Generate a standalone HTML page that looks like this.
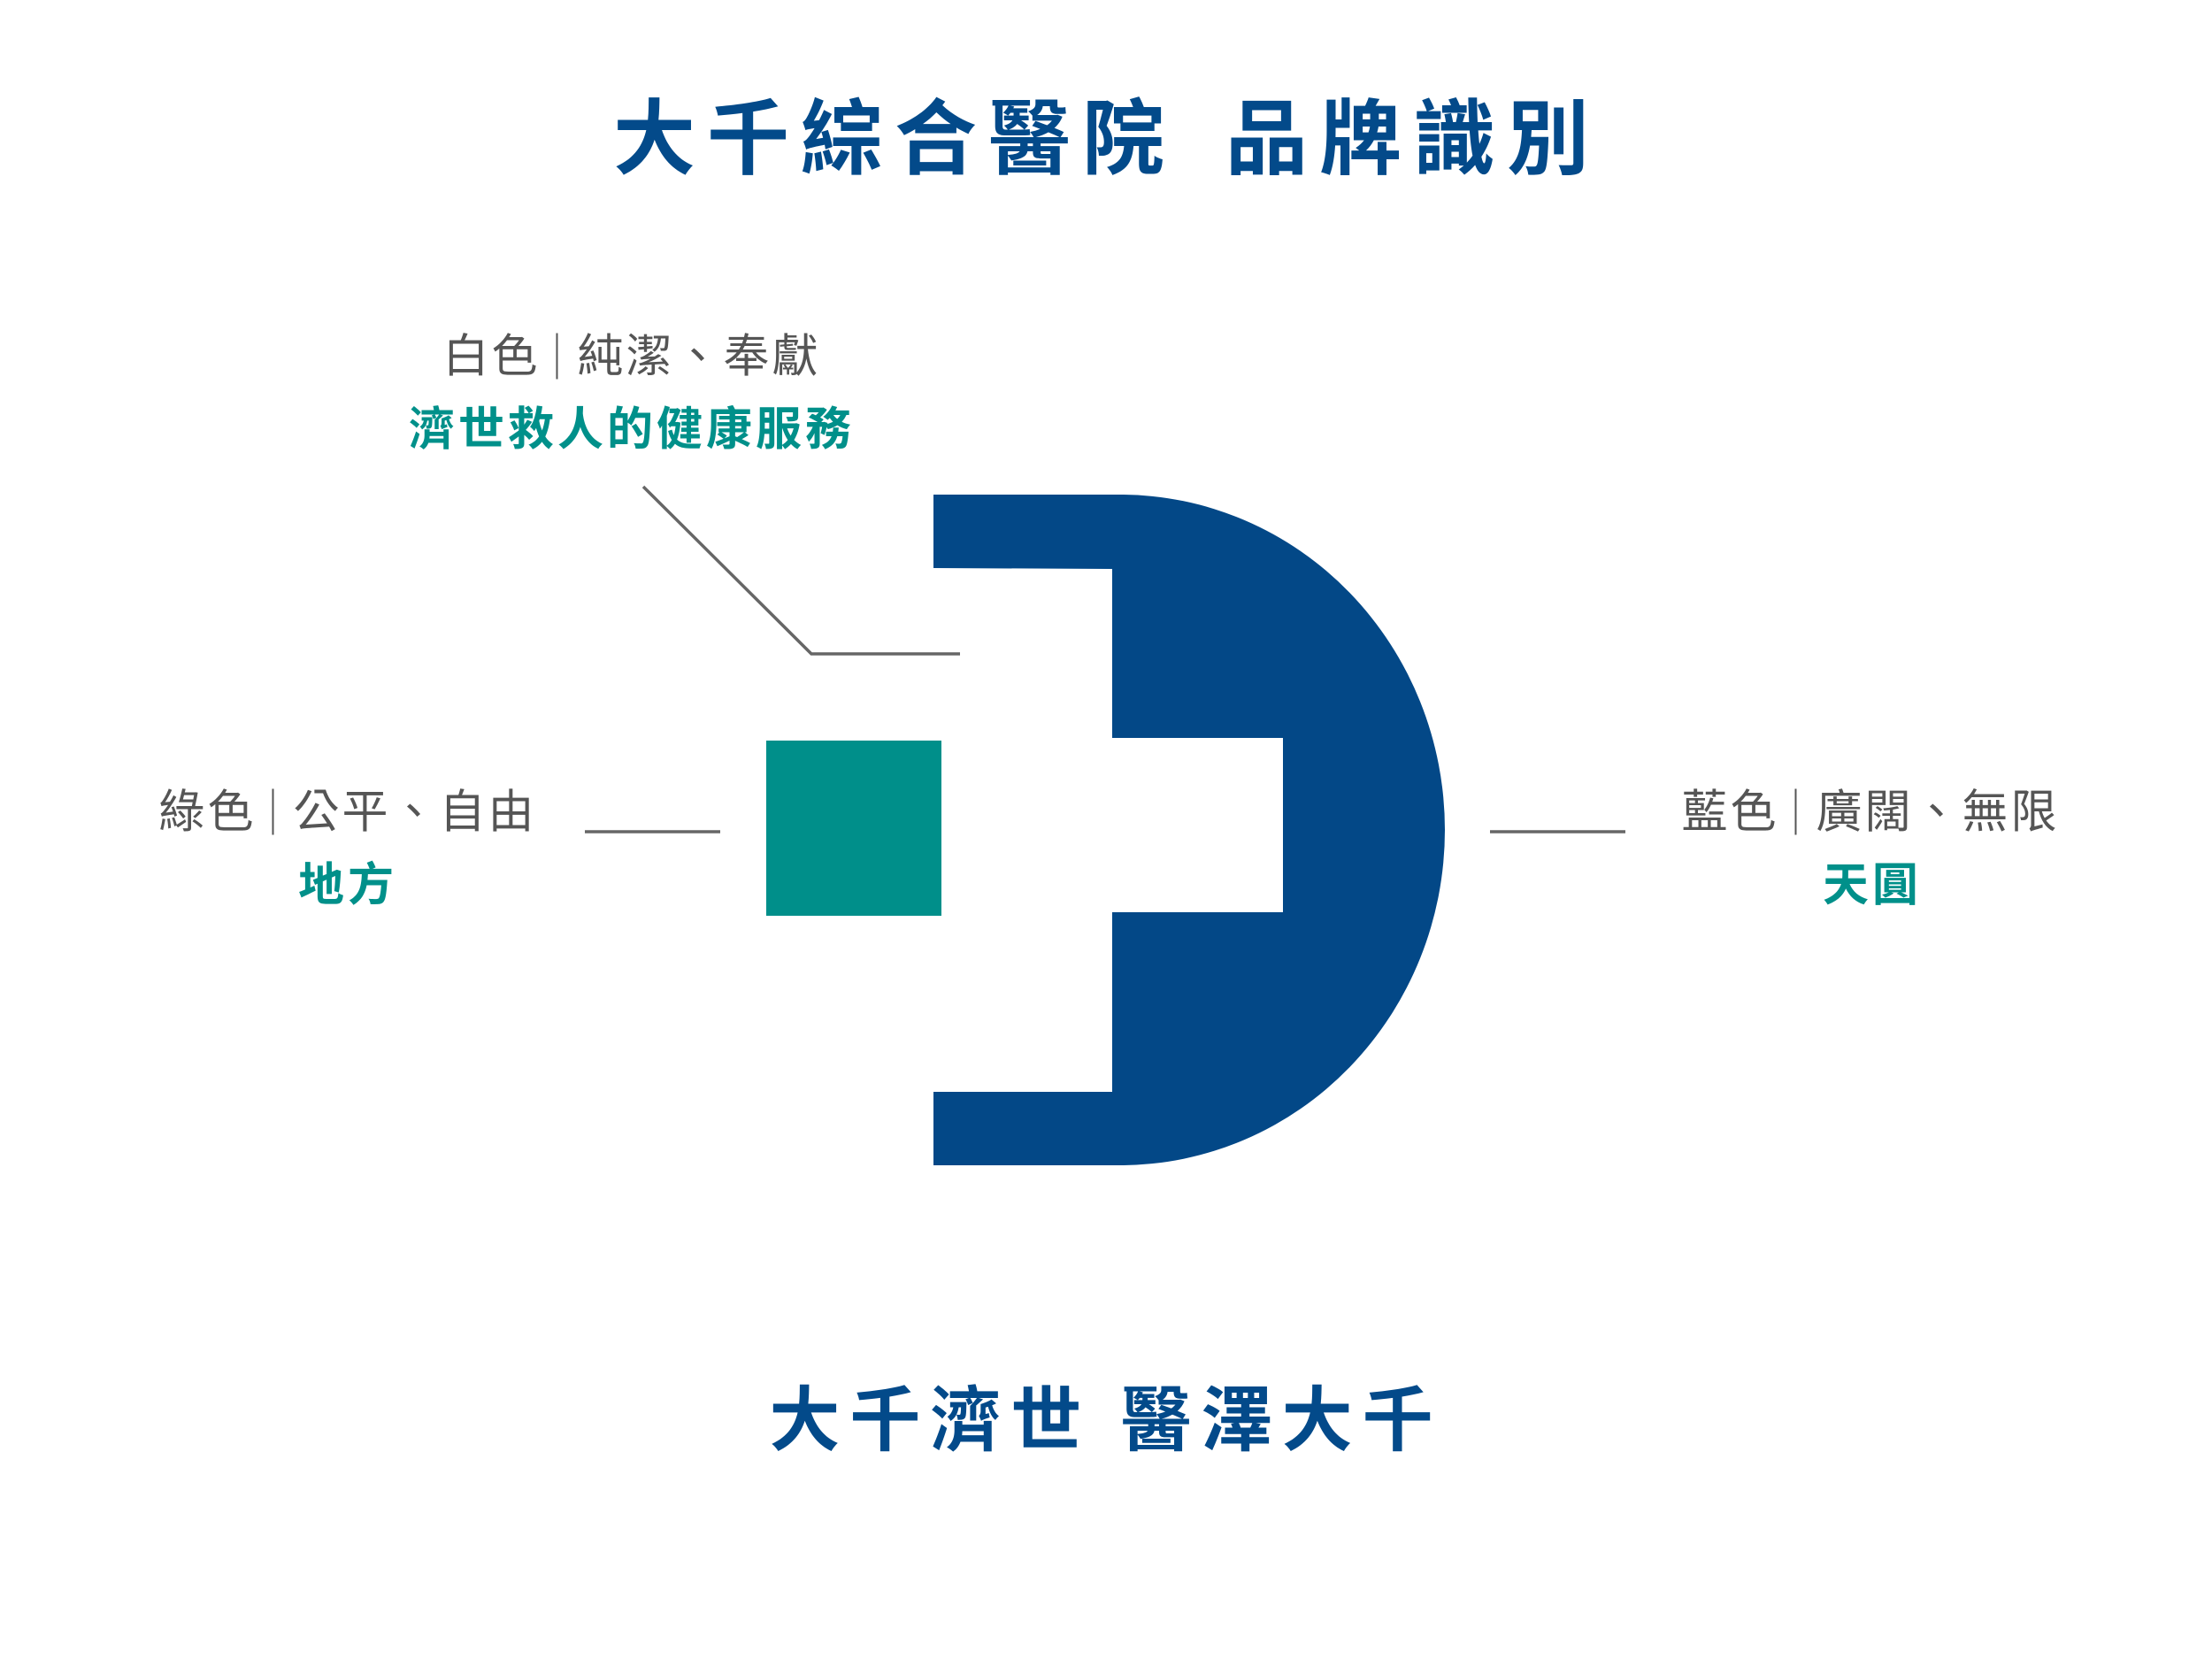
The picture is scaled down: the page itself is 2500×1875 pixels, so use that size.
<!DOCTYPE html>
<html><head><meta charset="utf-8"><style>
html,body{margin:0;padding:0;background:#fff;}
body{width:2500px;height:1875px;position:relative;overflow:hidden;font-family:"Liberation Sans","Noto Sans CJK TC",sans-serif;}
.t{position:absolute;white-space:nowrap;line-height:1;transform:translate(-50%,-50%);}
.g{color:#555;font-size:52px;font-weight:400;letter-spacing:3px;}
.c{color:#00908a;font-size:52px;font-weight:700;letter-spacing:4px;}
.bar{display:inline-block;width:2px;height:52px;background:#555;vertical-align:-8px;margin:0 22px 0 18px;}
</style></head><body>
<div class="t" style="left:1251px;top:158px;color:#034a8a;font-size:93px;font-weight:700;letter-spacing:13px;">大千綜合醫院<span style="display:inline-block;width:56px"></span>品牌識別</div>

<div class="t g" style="left:714px;top:403px;">白色<span class="bar"></span>純潔、奉獻</div>
<div class="t c" style="left:714px;top:486px;">濟世救人的健康服務</div>

<div class="t g" style="left:393px;top:918px;">綠色<span class="bar"></span>公平、自由</div>
<div class="t c" style="left:393px;top:1001px;">地方</div>

<div class="t g" style="left:2114px;top:918px;">藍色<span class="bar"></span>廣闊、無限</div>
<div class="t c" style="left:2116px;top:1001px;">天圓</div>

<div class="t" style="left:1250px;top:1606px;color:#034a8a;font-size:80px;font-weight:700;letter-spacing:11px;">大千濟世 醫澤大千</div>

<svg width="2500" height="1875" style="position:absolute;left:0;top:0">
<path d="M1055 559 L1266 559 A367 379 0 0 1 1266 1317 L1055 1317 L1055 1234 L1257 1234 L1257 1031 L1450 1031 L1450 834 L1257 834 L1257 643 L1055 642 Z" fill="#034887"/>
<rect x="866" y="837" width="198" height="198" fill="#008f8a"/>
<polyline points="727,550 917,739 1085,739" fill="none" stroke="#666" stroke-width="3.5"/>
<line x1="661" y1="940" x2="814" y2="940" stroke="#666" stroke-width="3.5"/>
<line x1="1684" y1="940" x2="1837" y2="940" stroke="#666" stroke-width="3.5"/>
</svg>
</body></html>
